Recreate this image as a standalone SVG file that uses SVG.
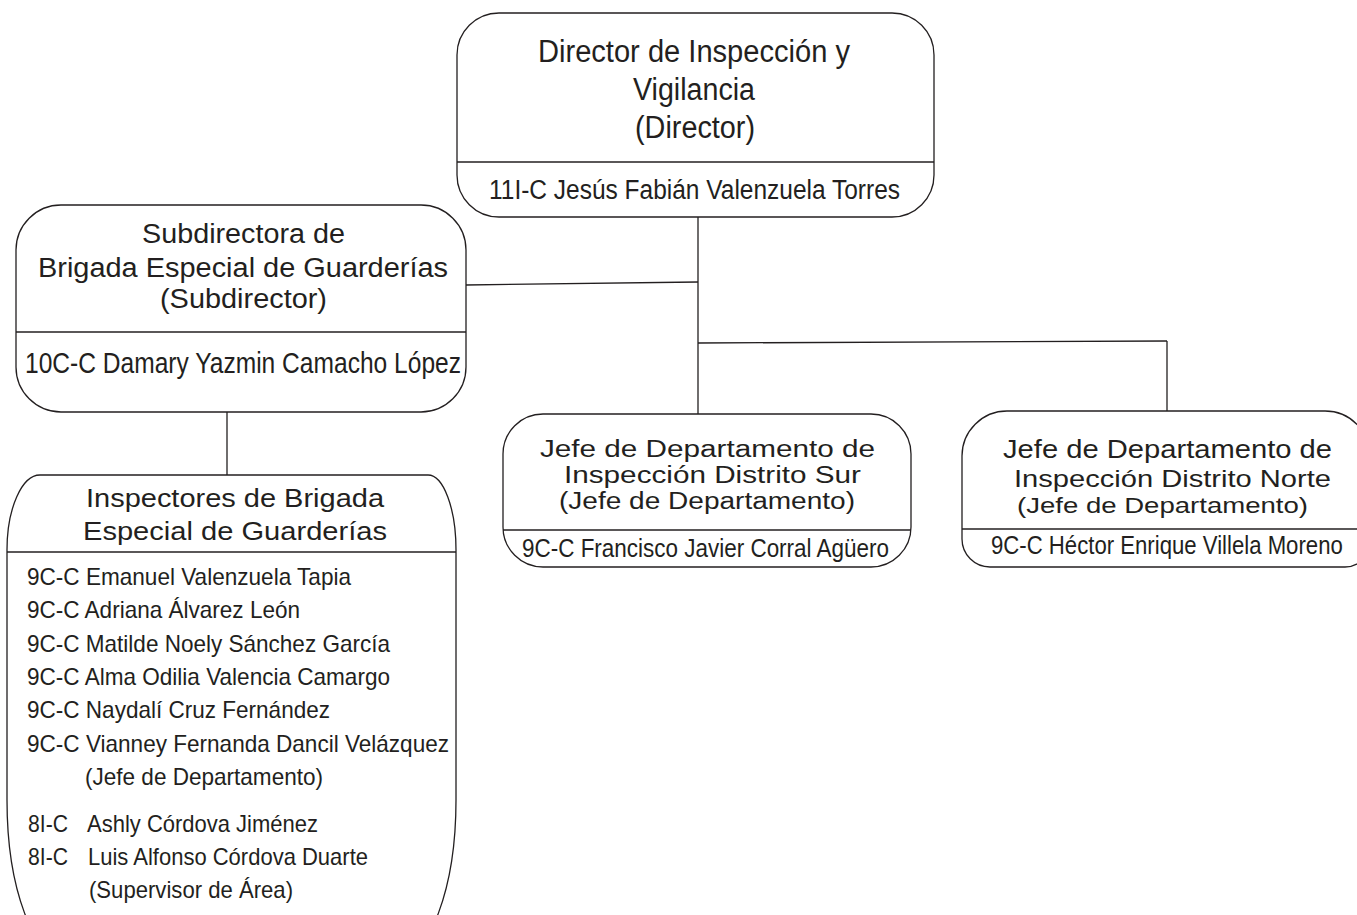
<svg xmlns="http://www.w3.org/2000/svg" width="1357" height="915" viewBox="0 0 1357 915">
<style>
.box{fill:#ffffff;stroke:#231f20;stroke-width:1.3}
.div{stroke:#231f20;stroke-width:1.3;fill:none}
.con{stroke:#231f20;stroke-width:1.3;fill:none}
text{font-family:"Liberation Sans",Arial,sans-serif;fill:#231f20}
</style>
<rect width="1357" height="915" fill="#ffffff"/>
<g id="connectors">
<line class="con" x1="698" y1="217" x2="698" y2="414"/>
<line class="con" x1="466" y1="285" x2="698" y2="282"/>
<line class="con" x1="698" y1="343" x2="1167" y2="341"/>
<line class="con" x1="1167" y1="341" x2="1167" y2="411"/>
<line class="con" x1="227" y1="412" x2="227" y2="475"/>
</g>
<g id="director">
<rect class="box" x="457" y="13" width="477" height="204" rx="42" ry="42"/>
<line class="div" x1="457" y1="162" x2="934" y2="162"/>
<text x="538" y="62" font-size="31" textLength="312" lengthAdjust="spacingAndGlyphs">Director de Inspección y</text>
<text x="633" y="100" font-size="31" textLength="122" lengthAdjust="spacingAndGlyphs">Vigilancia</text>
<text x="635" y="138" font-size="31" textLength="120" lengthAdjust="spacingAndGlyphs">(Director)</text>
<text x="489" y="199" font-size="27" textLength="411" lengthAdjust="spacingAndGlyphs">11I-C Jesús Fabián Valenzuela Torres</text>
</g>
<g id="subdirectora">
<rect class="box" x="16" y="205" width="450" height="207" rx="45" ry="45"/>
<line class="div" x1="16" y1="332" x2="466" y2="332"/>
<text x="142" y="243" font-size="27" textLength="203" lengthAdjust="spacingAndGlyphs">Subdirectora de</text>
<text x="38" y="277" font-size="27" textLength="410" lengthAdjust="spacingAndGlyphs">Brigada Especial de Guarderías</text>
<text x="160" y="308" font-size="27" textLength="167" lengthAdjust="spacingAndGlyphs">(Subdirector)</text>
<text x="25" y="373" font-size="29" textLength="436" lengthAdjust="spacingAndGlyphs">10C-C Damary Yazmin Camacho López</text>
</g>
<g id="inspectores">
<path class="box" d="M7,550 A33,75 0 0 1 40,475 L428,475 A28,75 0 0 1 456,550 L456,800 A60,160 0 0 1 396,960 L67,960 A60,160 0 0 1 7,800 Z"/>
<line class="div" x1="7" y1="552" x2="456" y2="552"/>
<text x="86" y="507" font-size="25" textLength="298" lengthAdjust="spacingAndGlyphs">Inspectores de Brigada</text>
<text x="83" y="540" font-size="25" textLength="304" lengthAdjust="spacingAndGlyphs">Especial de Guarderías</text>
<text x="27" y="585" font-size="24" textLength="324" lengthAdjust="spacingAndGlyphs">9C-C Emanuel Valenzuela Tapia</text>
<text x="27" y="618" font-size="24" textLength="273" lengthAdjust="spacingAndGlyphs">9C-C Adriana Álvarez León</text>
<text x="27" y="652" font-size="24" textLength="363" lengthAdjust="spacingAndGlyphs">9C-C Matilde Noely Sánchez García</text>
<text x="27" y="685" font-size="24" textLength="363" lengthAdjust="spacingAndGlyphs">9C-C Alma Odilia Valencia Camargo</text>
<text x="27" y="718" font-size="24" textLength="303" lengthAdjust="spacingAndGlyphs">9C-C Naydalí Cruz Fernández</text>
<text x="27" y="752" font-size="24" textLength="422" lengthAdjust="spacingAndGlyphs">9C-C Vianney Fernanda Dancil Velázquez</text>
<text x="85" y="785" font-size="24" textLength="238" lengthAdjust="spacingAndGlyphs">(Jefe de Departamento)</text>
<text x="28" y="832" font-size="24" textLength="40" lengthAdjust="spacingAndGlyphs">8I-C</text>
<text x="87" y="832" font-size="24" textLength="231" lengthAdjust="spacingAndGlyphs">Ashly Córdova Jiménez</text>
<text x="28" y="865" font-size="24" textLength="40" lengthAdjust="spacingAndGlyphs">8I-C</text>
<text x="88" y="865" font-size="24" textLength="280" lengthAdjust="spacingAndGlyphs">Luis Alfonso Córdova Duarte</text>
<text x="89" y="898" font-size="24" textLength="204" lengthAdjust="spacingAndGlyphs">(Supervisor de Área)</text>
</g>
<g id="jefe-sur">
<rect class="box" x="503" y="414" width="408" height="153" rx="40" ry="40"/>
<line class="div" x1="503" y1="530" x2="911" y2="530"/>
<text x="540" y="457" font-size="23" textLength="335" lengthAdjust="spacingAndGlyphs">Jefe de Departamento de</text>
<text x="564" y="483" font-size="23" textLength="297" lengthAdjust="spacingAndGlyphs">Inspección Distrito Sur</text>
<text x="559" y="509" font-size="23" textLength="296" lengthAdjust="spacingAndGlyphs">(Jefe de Departamento)</text>
<text x="522" y="557" font-size="25" textLength="367" lengthAdjust="spacingAndGlyphs">9C-C Francisco Javier Corral Agüero</text>
</g>
<g id="jefe-norte">
<path class="box" d="M962,456 A45,45 0 0 1 1007,411 L1325,411 A45,45 0 0 1 1370,456 L1370,542 A25,25 0 0 1 1345,567 L990,567 A28,28 0 0 1 962,539 Z"/>
<line class="div" x1="962" y1="529" x2="1370" y2="529"/>
<text x="1003" y="458" font-size="25" textLength="329" lengthAdjust="spacingAndGlyphs">Jefe de Departamento de</text>
<text x="1014" y="487" font-size="24" textLength="317" lengthAdjust="spacingAndGlyphs">Inspección Distrito Norte</text>
<text x="1017" y="513" font-size="22" textLength="291" lengthAdjust="spacingAndGlyphs">(Jefe de Departamento)</text>
<text transform="translate(991,554) scale(0.887,1)" font-size="25">9C-C Héctor Enrique Villela Moreno</text>
</g>
</svg>
